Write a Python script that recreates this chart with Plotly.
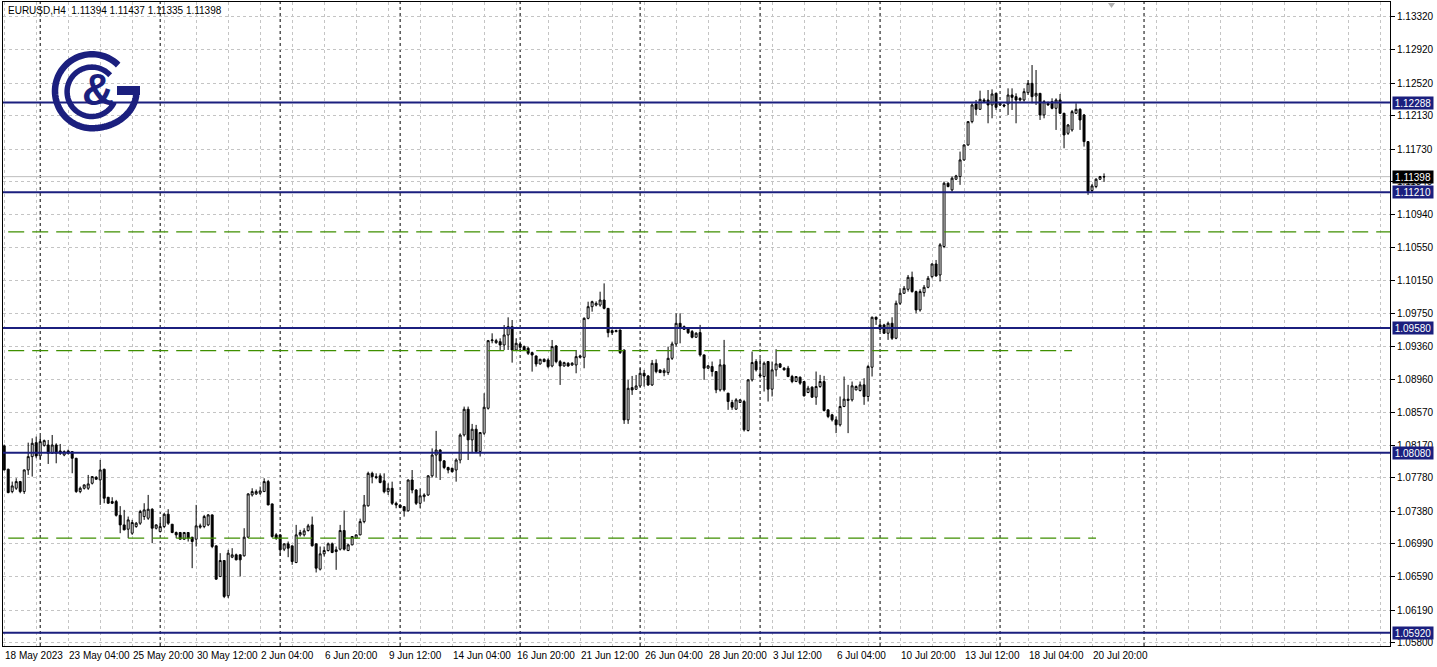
import math
import plotly.graph_objects as go

# ---------------- data (EURUSD H4) ----------------
opens = [
1.08163,1.07883,1.07615,1.07655,1.07735,1.07615,1.07875,1.08035,1.08203,1.08043,
1.08170,1.08175,1.08075,1.08175,1.08103,1.08055,1.08103,1.08095,1.08015,1.07615,
1.07655,1.07655,1.07715,1.07787,1.07755,1.07883,1.07547,1.07495,1.07495,1.07330,
1.07215,1.07163,1.07115,1.07195,1.07235,1.07315,1.07295,1.07403,1.07175,1.07135,
1.07195,1.07343,1.07223,1.07123,1.07123,1.07043,1.07123,1.07067,1.07043,1.07187,
1.07195,1.07215,1.07335,1.06963,1.06595,1.06787,1.06363,1.06827,1.06855,1.06855,
1.06843,1.07067,1.07575,1.07587,1.07595,1.07615,1.07735,1.07467,1.07095,1.07095,
1.06923,1.06987,1.06963,1.06763,1.07095,1.07095,1.07147,1.07215,1.06987,1.06683,
1.06867,1.06907,1.06987,1.06915,1.06923,1.07147,1.06907,1.06975,1.07055,1.07095,
1.07254,1.07444,1.07834,1.07794,1.07804,1.07744,1.07614,1.07654,1.07474,1.07454,
1.07434,1.07384,1.07754,1.07634,1.07474,1.07554,1.07574,1.07804,1.08054,1.08114,
1.07984,1.07904,1.07894,1.07874,1.07994,1.08296,1.08604,1.08236,1.08364,1.08096,
1.08316,1.08616,1.09428,1.09404,1.09416,1.09376,1.09496,1.09596,1.09316,1.09388,
1.09356,1.09336,1.09284,1.09244,1.09148,1.09204,1.09196,1.09124,1.09364,1.09176,
1.09124,1.09156,1.09136,1.09136,1.09228,1.09228,1.09696,1.09836,1.09856,1.09856,
1.09916,1.09816,1.09548,1.09536,1.09556,1.09316,1.08476,1.08864,1.08844,1.08884,
1.09036,1.09004,1.08896,1.09156,1.09076,1.09044,1.09044,1.09216,1.09388,1.09636,
1.09596,1.09576,1.09537,1.09469,1.09525,1.09257,1.09097,1.09117,1.09057,1.08837,
1.09137,1.08797,1.08685,1.08605,1.08685,1.08697,1.08349,1.08957,1.09177,1.09017,
1.08997,1.09177,1.08845,1.09077,1.09149,1.09097,1.09097,1.08997,1.08937,1.08989,
1.08937,1.08805,1.08869,1.08749,1.08877,1.08937,1.08597,1.08537,1.08477,1.08417,
1.08637,1.08725,1.08717,1.08837,1.08829,1.08897,1.08757,1.09109,1.09709,1.09617,
1.09617,1.09517,1.09637,1.09457,1.09877,1.09997,1.10045,1.10189,1.10017,1.09797,
1.10005,1.10069,1.10197,1.10349,1.10217,1.10559,1.11319,1.11239,1.11367,1.11399,
1.11599,1.11779,1.12059,1.12271,1.12207,1.12319,1.12319,1.12259,1.12399,1.12259,
1.12259,1.12271,1.12379,1.12359,1.12339,1.12319,1.12407,1.12519,1.12367,1.12399,
1.12139,1.12279,1.12299,1.12219,1.12319,1.12159,1.11919,1.11959,1.12159,1.12207,
1.12139,1.11819,1.11231,1.11279,1.11367,1.11394]

highs = [
1.08180,1.07890,1.07735,1.07775,1.07743,1.07880,1.08203,1.08255,1.08275,1.08283,
1.08240,1.08235,1.08295,1.08195,1.08187,1.08110,1.08120,1.08100,1.08020,1.07675,
1.07700,1.07815,1.07800,1.07800,1.07995,1.07890,1.07550,1.07547,1.07515,1.07440,
1.07395,1.07315,1.07275,1.07250,1.07395,1.07475,1.07575,1.07415,1.07220,1.07275,
1.07355,1.07403,1.07225,1.07135,1.07130,1.07130,1.07125,1.07070,1.07455,1.07230,
1.07335,1.07345,1.07340,1.06965,1.06875,1.06790,1.06915,1.06935,1.06870,1.06860,
1.07175,1.07595,1.07655,1.07640,1.07675,1.07775,1.07755,1.07470,1.07115,1.07100,
1.06995,1.07015,1.06965,1.07215,1.07155,1.07175,1.07227,1.07315,1.06990,1.06955,
1.06955,1.07003,1.07003,1.06955,1.07215,1.07387,1.06990,1.07080,1.07100,1.07290,
1.07574,1.07854,1.07854,1.07834,1.07834,1.07834,1.07714,1.07734,1.07494,1.07460,
1.07440,1.07760,1.07874,1.07644,1.07654,1.07594,1.07814,1.08134,1.08344,1.08124,
1.07994,1.07914,1.07904,1.08014,1.08314,1.08636,1.08636,1.08428,1.08416,1.08330,
1.08796,1.09436,1.09516,1.09450,1.09456,1.09616,1.09708,1.09676,1.09456,1.09416,
1.09370,1.09356,1.09296,1.09250,1.09210,1.09215,1.09216,1.09436,1.09376,1.09196,
1.09175,1.09170,1.09170,1.09316,1.09260,1.09708,1.09896,1.09908,1.09900,1.10016,
1.10116,1.09820,1.09564,1.09560,1.09560,1.09320,1.08956,1.09004,1.09016,1.09096,
1.09076,1.09016,1.09196,1.09204,1.09080,1.09096,1.09356,1.09416,1.09756,1.09756,
1.09610,1.09588,1.09556,1.09530,1.09617,1.09260,1.09135,1.09177,1.09060,1.09205,
1.09437,1.08800,1.08717,1.08737,1.08725,1.08717,1.08965,1.09297,1.09205,1.09217,
1.09177,1.09180,1.09177,1.09325,1.09160,1.09110,1.09125,1.09017,1.09000,1.08997,
1.08940,1.08885,1.08880,1.09057,1.09017,1.09005,1.08600,1.08549,1.08517,1.08757,
1.08997,1.08897,1.08937,1.08890,1.08937,1.08977,1.09137,1.09717,1.09717,1.09657,
1.09630,1.09657,1.09709,1.09909,1.10057,1.10085,1.10217,1.10257,1.10029,1.10045,
1.10097,1.10205,1.10357,1.10397,1.10599,1.11339,1.11330,1.11399,1.11420,1.11699,
1.11785,1.12065,1.12279,1.12319,1.12431,1.12340,1.12439,1.12447,1.12407,1.12290,
1.12270,1.12459,1.12459,1.12399,1.12350,1.12459,1.12559,1.12739,1.12679,1.12400,
1.12319,1.12300,1.12339,1.12339,1.12391,1.12165,1.12031,1.12199,1.12279,1.12219,
1.12151,1.11825,1.11310,1.11379,1.11407,1.11437]

lows = [
1.07870,1.07595,1.07595,1.07635,1.07595,1.07587,1.07815,1.07795,1.08015,1.08003,
1.08155,1.07947,1.08070,1.07955,1.08055,1.08040,1.08060,1.07835,1.07600,1.07595,
1.07640,1.07635,1.07700,1.07760,1.07455,1.07475,1.07470,1.07465,1.07315,1.07115,
1.07150,1.07055,1.07095,1.07180,1.07215,1.07275,1.07275,1.06995,1.07160,1.07123,
1.07175,1.07215,1.07115,1.07055,1.07040,1.07035,1.07015,1.06695,1.06955,1.07170,
1.07175,1.07200,1.06935,1.06555,1.06587,1.06335,1.06335,1.06815,1.06790,1.06595,
1.06835,1.07055,1.07555,1.07575,1.07575,1.07610,1.07450,1.07060,1.07035,1.06843,
1.06900,1.06827,1.06735,1.06755,1.07075,1.07075,1.07135,1.06955,1.06643,1.06667,
1.06835,1.06895,1.06875,1.06675,1.06907,1.06907,1.06900,1.06970,1.07050,1.07090,
1.07234,1.07434,1.07714,1.07764,1.07714,1.07594,1.07574,1.07454,1.07414,1.07414,
1.07314,1.07374,1.07594,1.07454,1.07414,1.07494,1.07564,1.07784,1.07784,1.07754,
1.07884,1.07834,1.07844,1.07734,1.07954,1.08276,1.07994,1.08076,1.08076,1.08036,
1.08296,1.08600,1.09396,1.09390,1.09316,1.09316,1.09316,1.09164,1.09308,1.09316,
1.09310,1.09256,1.09056,1.09116,1.09140,1.09170,1.09096,1.09108,1.09156,1.08896,
1.09115,1.09115,1.09125,1.09036,1.09215,1.09096,1.09684,1.09776,1.09840,1.09836,
1.09804,1.09468,1.09496,1.09530,1.09268,1.08428,1.08428,1.08776,1.08836,1.08876,
1.08876,1.08884,1.08884,1.09036,1.09040,1.09000,1.09016,1.09196,1.09356,1.09396,
1.09560,1.09508,1.09456,1.09460,1.09237,1.08957,1.09090,1.08997,1.08797,1.08817,
1.08817,1.08597,1.08597,1.08597,1.08680,1.08337,1.08337,1.08937,1.09057,1.08977,
1.08817,1.08697,1.08757,1.08997,1.09100,1.09070,1.08989,1.08917,1.08930,1.08897,
1.08757,1.08797,1.08740,1.08657,1.08860,1.08577,1.08497,1.08457,1.08317,1.08397,
1.08629,1.08317,1.08697,1.08830,1.08817,1.08657,1.08697,1.08997,1.09617,1.09537,
1.09510,1.09437,1.09437,1.09445,1.09857,1.09989,1.10017,1.10005,1.09757,1.09777,
1.09957,1.10057,1.10177,1.10197,1.10139,1.10539,1.11270,1.11219,1.11360,1.11299,
1.11590,1.11770,1.12039,1.12139,1.12199,1.12290,1.12039,1.12099,1.12199,1.12250,
1.12230,1.12139,1.12199,1.12039,1.12300,1.12299,1.12379,1.12279,1.12259,1.12079,
1.12099,1.12250,1.12207,1.11959,1.12151,1.11739,1.11899,1.11939,1.12151,1.11959,
1.11759,1.11179,1.11200,1.11259,1.11359,1.11335]

closes = [
1.07875,1.07603,1.07683,1.07735,1.07615,1.07875,1.08035,1.08195,1.08043,1.08215,
1.08227,1.08075,1.08175,1.08075,1.08075,1.08095,1.08075,1.08015,1.07615,1.07655,
1.07695,1.07707,1.07795,1.07763,1.07875,1.07535,1.07475,1.07475,1.07330,1.07215,
1.07155,1.07275,1.07243,1.07235,1.07375,1.07395,1.07403,1.07175,1.07215,1.07195,
1.07343,1.07235,1.07123,1.07095,1.07043,1.07123,1.07055,1.07015,1.07203,1.07203,
1.07315,1.07335,1.06955,1.06563,1.06787,1.06355,1.06875,1.06855,1.06795,1.06795,
1.07067,1.07587,1.07615,1.07615,1.07623,1.07735,1.07455,1.07075,1.07055,1.06915,
1.06987,1.06935,1.06775,1.07095,1.07123,1.07143,1.07203,1.06963,1.06695,1.06867,
1.06907,1.06987,1.06883,1.06895,1.07147,1.06923,1.06975,1.07075,1.07095,1.07254,
1.07454,1.07834,1.07794,1.07784,1.07724,1.07614,1.07654,1.07474,1.07454,1.07424,
1.07384,1.07754,1.07634,1.07474,1.07564,1.07574,1.07804,1.08054,1.08114,1.07984,
1.07904,1.07874,1.07854,1.07994,1.08294,1.08604,1.08236,1.08364,1.08096,1.08324,
1.08628,1.09428,1.09436,1.09428,1.09376,1.09496,1.09596,1.09316,1.09396,1.09348,
1.09316,1.09276,1.09256,1.09148,1.09204,1.09176,1.09116,1.09356,1.09176,1.09124,
1.09164,1.09124,1.09156,1.09236,1.09244,1.09696,1.09836,1.09896,1.09876,1.09916,
1.09816,1.09524,1.09524,1.09548,1.09284,1.08476,1.08856,1.08836,1.08884,1.09036,
1.09004,1.08896,1.09156,1.09056,1.09044,1.09068,1.09216,1.09388,1.09636,1.09576,
1.09564,1.09524,1.09469,1.09517,1.09257,1.09097,1.09125,1.09057,1.08837,1.09137,
1.08837,1.08697,1.08629,1.08717,1.08717,1.08357,1.08957,1.09165,1.09077,1.09005,
1.09157,1.08845,1.09077,1.09149,1.09109,1.09077,1.08997,1.08937,1.08997,1.08917,
1.08765,1.08857,1.08749,1.08877,1.08937,1.08589,1.08517,1.08477,1.08417,1.08637,
1.08725,1.08710,1.08885,1.08877,1.08897,1.08757,1.09117,1.09709,1.09685,1.09565,
1.09517,1.09637,1.09457,1.09877,1.09997,1.10057,1.10189,1.10017,1.09797,1.10017,
1.10069,1.10177,1.10349,1.10205,1.10579,1.11319,1.11279,1.11379,1.11407,1.11599,
1.11779,1.12059,1.12259,1.12207,1.12327,1.12299,1.12259,1.12391,1.12231,1.12279,
1.12247,1.12379,1.12351,1.12319,1.12319,1.12419,1.12519,1.12359,1.12399,1.12139,
1.12299,1.12259,1.12219,1.12319,1.12159,1.11899,1.12019,1.12179,1.12207,1.12079,
1.11819,1.11219,1.11287,1.11367,1.11399,1.11398]

bar_index = list(range(len(opens)))

price_ticks = [1.13320, 1.12920, 1.12520, 1.12130, 1.11730, 1.11340, 1.10940,
               1.10550, 1.10150, 1.09750, 1.09360, 1.08960, 1.08570, 1.08170,
               1.07780, 1.07380, 1.06990, 1.06590, 1.06190, 1.05800]

x_label_index = [0, 16, 32, 48, 64, 80, 96, 112, 128, 144, 160, 176, 192, 208,
                 224, 240, 256, 272]
x_label_text = ["18 May 2023", "23 May 04:00", "25 May 20:00", "30 May 12:00",
                "2 Jun 04:00", "6 Jun 20:00", "9 Jun 12:00", "14 Jun 04:00",
                "16 Jun 20:00", "21 Jun 12:00", "26 Jun 04:00", "28 Jun 20:00",
                "3 Jul 12:00", "6 Jul 04:00", "10 Jul 20:00", "13 Jul 12:00",
                "18 Jul 04:00", "20 Jul 20:00"]

week_start_index = [9, 39, 69, 99, 129, 159, 189, 219, 249, 285]

level_prices = [1.12288, 1.11210, 1.09580, 1.08080, 1.05920]
dashed_levels = [1.10735, 1.09308, 1.07055]
dashed_end_index = [400, 267, 273]
last_price = 1.11398
header_text = "EURUSD,H4&nbsp; 1.11394 1.11437 1.11335 1.11398"

# ---------------- styling ----------------
NAVY = "#1b1f7e"
GREEN = "#3f8f00"
GRID = "#c4c4c4"
W, H = 1437, 667
ML, MR, MT, MB = 3, 47, 2, 21
PW, PH = W - ML - MR, H - MT - MB
FONT = "Liberation Sans"

fig = go.Figure()
fig.add_trace(go.Candlestick(
    x=bar_index, open=opens, high=highs, low=lows, close=closes,
    increasing=dict(line=dict(color="black", width=1), fillcolor="white"),
    decreasing=dict(line=dict(color="black", width=1), fillcolor="black"),
    whiskerwidth=0, hoverinfo="skip", showlegend=False))

shapes = []
# weekly separators
for wi in week_start_index:
    shapes.append(dict(type="line", xref="x", yref="paper", x0=wi, x1=wi, y0=0, y1=1,
                       line=dict(color="black", width=1, dash="3px,3px"), layer="between"))
# current price line
shapes.append(dict(type="line", xref="paper", yref="y", x0=0, x1=1, y0=last_price, y1=last_price,
                   line=dict(color="#bdbdbd", width=1), layer="between"))
# green dashed levels
for lv, xe in zip(dashed_levels, dashed_end_index):
    shapes.append(dict(type="line", xref="x", yref="y", x0=-5, x1=xe, y0=lv, y1=lv,
                       line=dict(color=GREEN, width=1.3, dash="16px,8px"), layer="above"))
# navy horizontal levels
for lv in level_prices:
    shapes.append(dict(type="line", xref="paper", yref="y", x0=0, x1=1, y0=lv, y1=lv,
                       line=dict(color=NAVY, width=2), layer="above"))


# ---------------- logo (decoration, pixel placed) ----------------
def pp(px, py):
    return (px - ML) / PW, 1 - (py - MT) / PH


def arc_pts(cx, cy, rx, ry, a0, a1, steps=80):
    pts = []
    for k in range(steps + 1):
        a = math.radians(a0 + (a1 - a0) * k / steps)
        pts.append(pp(cx + rx * math.cos(a), cy - ry * math.sin(a)))
    return pts


def to_path(pts):
    return "M " + " L ".join(f"{x:.5f},{y:.5f}" for x, y in pts)


cx, cy = 92.0, 91.2
outer = arc_pts(cx, cy, 37.0, 37.0, 45, 270) + arc_pts(cx, cy, 44.5, 37.0, 270, 352)[1:]
outer.append(pp(cx + 44.5 * math.cos(math.radians(352)), 88.0))
shapes.append(dict(type="path", xref="paper", yref="paper", path=to_path(outer),
                   line=dict(color=NAVY, width=6.5), fillcolor="rgba(0,0,0,0)", layer="above"))
bx0, by0 = pp(117, 86)
bx1, by1 = pp(140, 95)
shapes.append(dict(type="rect", xref="paper", yref="paper", x0=bx0, x1=bx1, y0=by1, y1=by0,
                   line=dict(width=0), fillcolor=NAVY, layer="above"))
inner = arc_pts(91.8, 91.8, 24.7, 24.7, 42, 335)
shapes.append(dict(type="path", xref="paper", yref="paper", path=to_path(inner),
                   line=dict(color=NAVY, width=5.5), fillcolor="rgba(0,0,0,0)", layer="above"))
# chart shift marker
tx0, ty0 = pp(1108, 3)
tx1, _ = pp(1115, 3)
tmx, tmy = pp(1111.5, 8)
shapes.append(dict(type="path", xref="paper", yref="paper",
                   path=f"M {tx0},{ty0} L {tx1},{ty0} L {tmx},{tmy} Z",
                   line=dict(width=0), fillcolor="#b0b0b0", layer="above"))

annotations = []
ax, ay = pp(97.5, 89.5)
annotations.append(dict(x=ax, y=ay, xref="paper", yref="paper", text="<b>&amp;</b>",
                        showarrow=False, xanchor="center", yanchor="middle",
                        font=dict(family=FONT, size=44, color=NAVY)))
# header
annotations.append(dict(x=0, y=1, xref="paper", yref="paper", text=header_text,
                        showarrow=False, xanchor="left", yanchor="top", xshift=3, yshift=-1,
                        font=dict(family=FONT, size=10, color="black")))
# x labels
for xi, tx in zip(x_label_index, x_label_text):
    annotations.append(dict(x=xi, y=0, xref="x", yref="paper", text=tx, showarrow=False,
                            xanchor="left", yanchor="top", yshift=-2, xshift=-1,
                            font=dict(family=FONT, size=10, color="black")))
# price boxes
for lv in level_prices:
    annotations.append(dict(x=1, y=lv, xref="paper", yref="y", text=f"{lv:.5f}",
                            showarrow=False, xanchor="left", yanchor="middle", xshift=2,
                            bgcolor=NAVY, borderpad=0, width=40, height=12, align="center",
                            font=dict(family=FONT, size=10, color="white")))
annotations.append(dict(x=1, y=last_price, xref="paper", yref="y", text=f"{last_price:.5f}",
                        showarrow=False, xanchor="left", yanchor="middle", xshift=2,
                        bgcolor="black", borderpad=0, width=40, height=12, align="center",
                        font=dict(family=FONT, size=10, color="white")))

fig.update_layout(
    width=W, height=H,
    margin=dict(l=ML, r=MR, t=MT, b=MB, pad=0),
    paper_bgcolor="white", plot_bgcolor="white",
    showlegend=False,
    shapes=shapes, annotations=annotations,
    xaxis=dict(range=[-0.3, (PW - 1) / 4.0], rangeslider=dict(visible=False),
               showgrid=True, gridcolor=GRID, griddash="3px,3px", gridwidth=1,
               tick0=0, dtick=8, showticklabels=False, ticks="",
               showline=True, mirror=True, linecolor="black", linewidth=1,
               zeroline=False, fixedrange=True),
    yaxis=dict(side="right", range=[1.05760, 1.13496],
               tickvals=price_ticks, ticktext=[f"{v:.5f}" for v in price_ticks],
               showgrid=True, gridcolor=GRID, griddash="3px,3px", gridwidth=1,
               ticks="outside", ticklen=4, tickcolor="black",
               tickfont=dict(family=FONT, size=10, color="black"),
               showline=True, mirror=True, linecolor="black", linewidth=1,
               zeroline=False, fixedrange=True),
)

fig.write_html("out.html", config={"displayModeBar": False},
               post_script="document.body.style.margin='0px';document.body.style.overflow='hidden';")
